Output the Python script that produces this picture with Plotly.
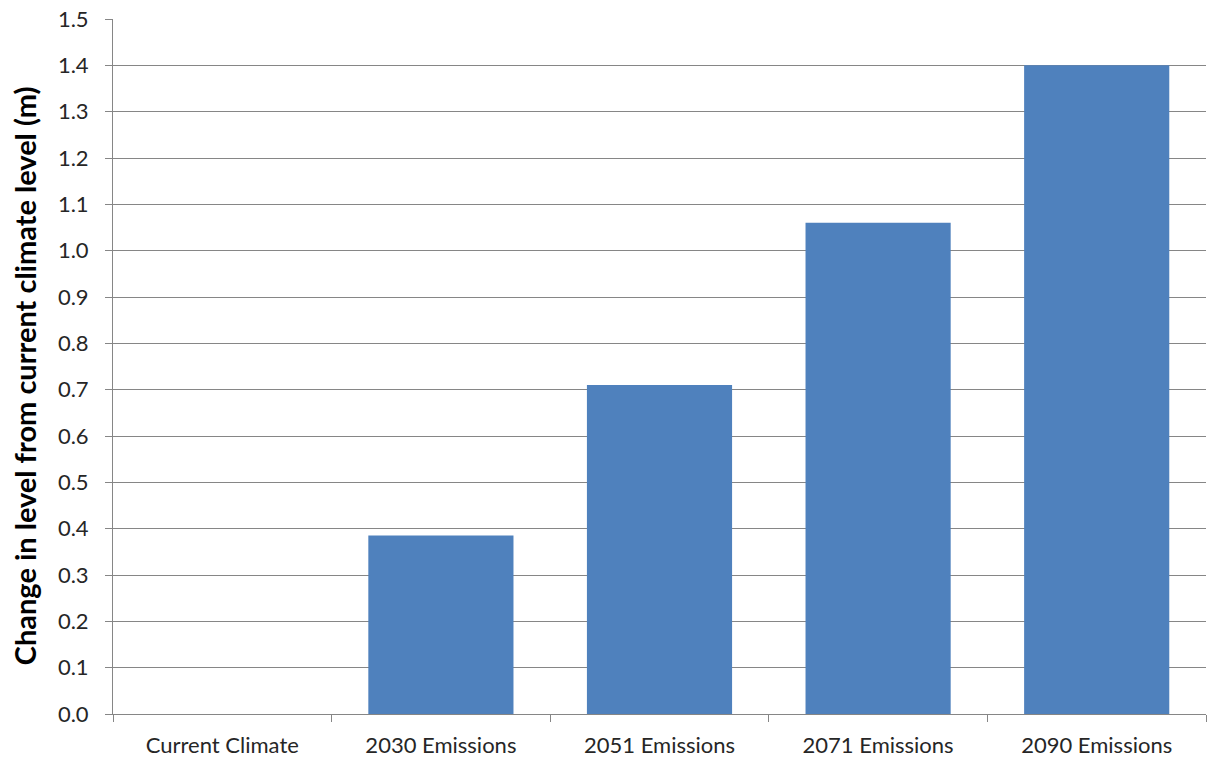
import plotly.graph_objects as go

# Scenario categories and projected change in level (m)
categories = ["Current Climate", "2030 Emissions", "2051 Emissions", "2071 Emissions", "2090 Emissions"]
level_change = [0.0, 0.385, 0.71, 1.06, 1.40]
y_ticks = [round(i * 0.1, 1) for i in range(16)]
y_tick_text = [f"{v:.1f}" for v in y_ticks]
y_title = "Change in level from current climate level (m)"

BAR_COLOR = "#4F81BD"
AXIS_GREY = "#868686"
FONT = "Lato, 'Open Sans', sans-serif"

fig = go.Figure(
    go.Bar(
        x=categories,
        y=level_change,
        marker=dict(color=BAR_COLOR, line=dict(width=0)),
        hoverinfo="x+y",
    )
)

fig.update_layout(
    width=1208,
    height=760,
    margin=dict(l=113, r=2, t=19, b=46),
    paper_bgcolor="white",
    plot_bgcolor="white",
    bargap=0.336,
    showlegend=False,
    font=dict(family=FONT, color="#262626"),
)

fig.update_xaxes(
    type="category",
    tickson="boundaries",
    ticks="outside",
    ticklen=7,
    tickcolor=AXIS_GREY,
    showline=True,
    linecolor=AXIS_GREY,
    linewidth=1,
    showgrid=False,
    ticklabelstandoff=12,
    tickfont=dict(size=22, family=FONT, color="#262626"),
)

fig.update_yaxes(
    range=[0, 1.5],
    tickvals=y_ticks,
    ticktext=y_tick_text,
    ticks="outside",
    ticklen=7,
    tickcolor=AXIS_GREY,
    showline=True,
    linecolor=AXIS_GREY,
    linewidth=1,
    showgrid=True,
    gridcolor=AXIS_GREY,
    gridwidth=1,
    zeroline=False,
    ticklabelstandoff=12,
    tickfont=dict(size=22, family=FONT, color="#262626"),
)

# Vertical axis title, placed as a rotated annotation left of the tick labels
fig.add_annotation(
    text=f"<b>{y_title}</b>",
    xref="paper",
    yref="paper",
    x=-0.0814,
    y=0.486,
    xanchor="center",
    yanchor="middle",
    textangle=-90,
    showarrow=False,
    font=dict(size=29, family=FONT, color="#000000"),
)

fig.write_html("out.html")
